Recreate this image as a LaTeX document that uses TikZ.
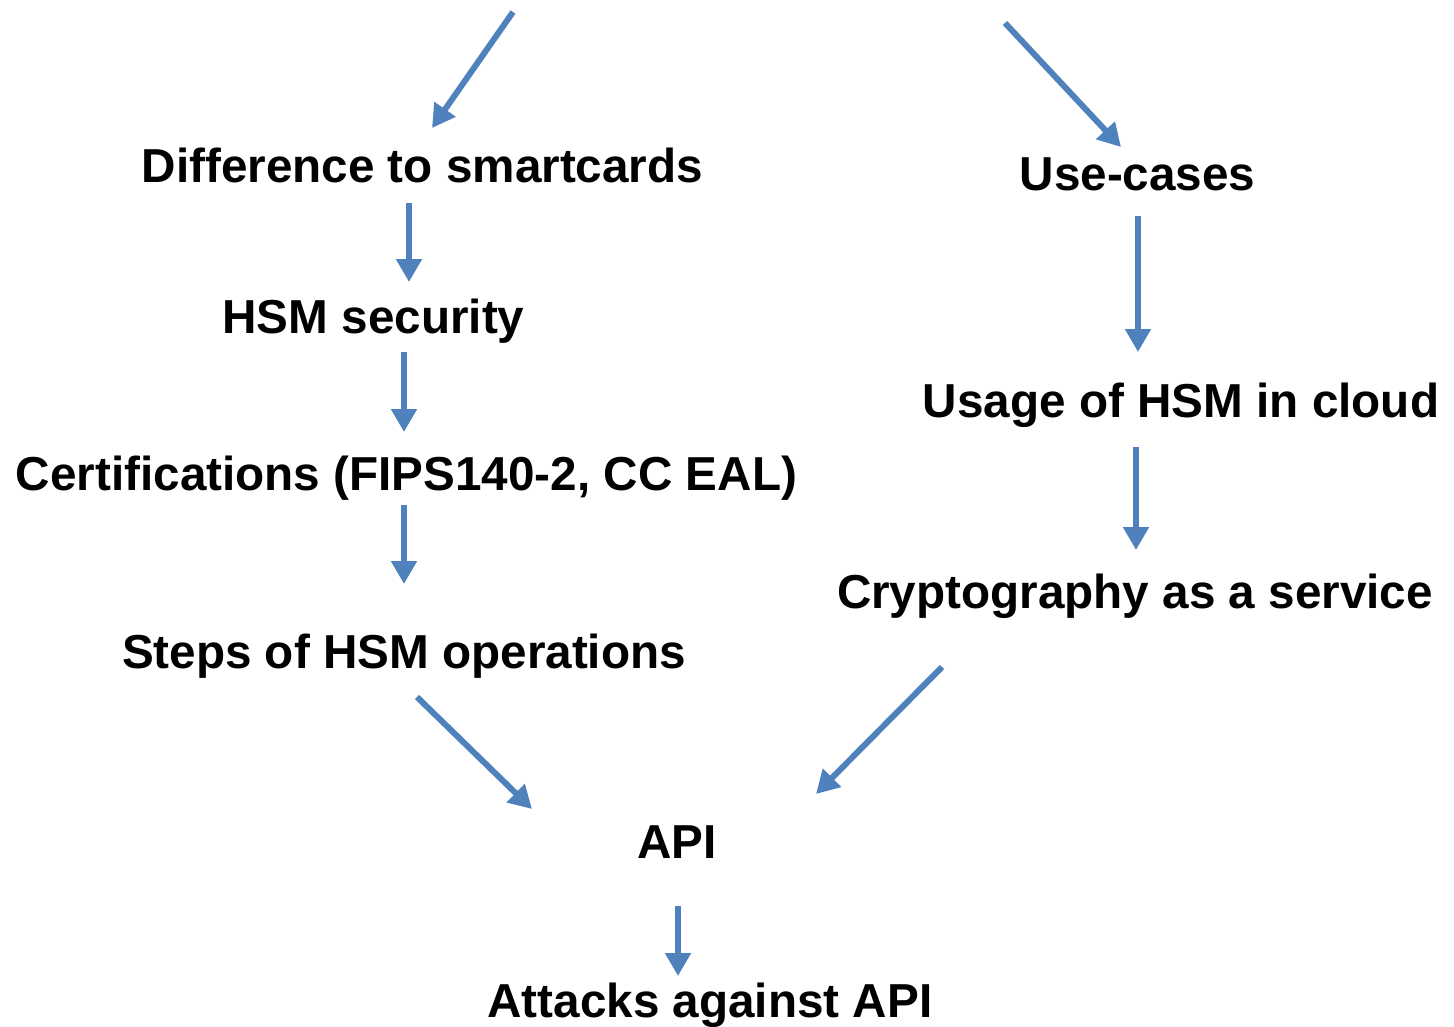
\documentclass[tikz,border=0pt]{standalone}
\usepackage{fontspec}
\setmainfont{Liberation Sans}
\usepackage{tikz}
\usetikzlibrary{arrows.meta, calc}

\definecolor{arrblue}{HTML}{4F81BD}

\begin{document}
\begin{tikzpicture}[
    x=0.01cm, y=-0.01cm,
    topic/.style={anchor=base, inner sep=0pt, font=\fontsize{13.55}{16}\selectfont\bfseries},
    arr/.style={draw=arrblue, line width=1.7pt, -{Triangle[length=6.5pt, width=7pt]}}
]
\useasboundingbox (0,0) rectangle (1454,1027);

% Left column
\node[topic] (diff) at (422.5, 182) {Difference to smartcards};
\node[topic] (hsmsec) at (373.5, 333) {HSM security};
\node[topic] (cert) at (406.5, 490) {Certifications (FIPS140-2, CC EAL)};
\node[topic] (steps) at (404, 668) {Steps of HSM operations};

% Right column
\node[topic] (usecases) at (1137.5, 190) {Use-cases};
\node[topic] (cloud) at (1181, 417) {Usage of HSM in cloud};
\node[topic] (caas) at (1135, 608) {Cryptography as a service};

% Bottom
\node[topic] (api) at (677, 858) {API};
\node[topic] (attacks) at (710, 1017) {Attacks against API};

% Incoming arrows from above
\coordinate (inleft) at (513, 12);
\coordinate (inright) at (1005, 23);

% Arrows
\draw[arr] (inleft) -- ($(diff.base)+(9.5,-54)$);
\draw[arr] (inright) -- ($(usecases.base)+(-16.5,-43)$);
\draw[arr] ($(diff.base)+(-13.5,21)$) -- ($(hsmsec.base)+(35.5,-51)$);
\draw[arr] ($(hsmsec.base)+(30.5,19)$) -- ($(cert.base)+(-2.5,-58)$);
\draw[arr] ($(cert.base)+(-2.5,15)$) -- ($(steps.base)+(0,-84)$);
\draw[arr] ($(usecases.base)+(0.5,26)$) -- ($(cloud.base)+(-43,-65)$);
\draw[arr] ($(cloud.base)+(-45,30)$) -- ($(caas.base)+(1,-58)$);
\draw[arr] ($(steps.base)+(13,29)$) -- ($(api.base)+(-145,-49)$);
\draw[arr] ($(caas.base)+(-193,59)$) -- ($(api.base)+(139,-64)$);
\draw[arr] ($(api.base)+(1,48)$) -- ($(attacks.base)+(-32,-41)$);

\end{tikzpicture}
\end{document}
